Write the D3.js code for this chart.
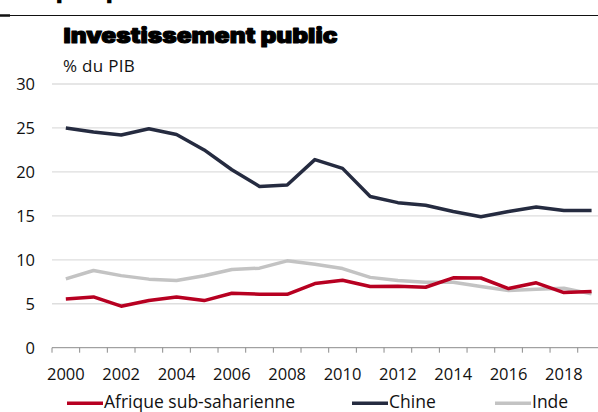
<!DOCTYPE html>
<html>
<head>
<meta charset="utf-8">
<script src="https://cdn.jsdelivr.net/npm/d3@7"></script>
<style>
  body { margin: 0; background: #fff; }
  svg { display: block; }
</style>
</head>
<body>
<div id="chart"></div>
<script>
const years = d3.range(2000, 2020);
const afrique = [5.55, 5.78, 4.72, 5.36, 5.78, 5.36, 6.2, 6.08, 6.08, 7.3, 7.68, 6.96, 7.0, 6.88, 7.95, 7.93, 6.73, 7.38, 6.27, 6.38];
const chine = [25.0, 24.55, 24.2, 24.9, 24.25, 22.5, 20.25, 18.35, 18.5, 21.4, 20.4, 17.2, 16.5, 16.2, 15.5, 14.9, 15.5, 16.0, 15.6, 15.6];
const inde = [7.83, 8.78, 8.2, 7.8, 7.65, 8.18, 8.9, 9.05, 9.88, 9.5, 9.0, 8.0, 7.65, 7.45, 7.45, 6.96, 6.5, 6.65, 6.77, 6.12];
const yTicks = [0, 5, 10, 15, 20, 25, 30];
const xLabels = [2000, 2002, 2004, 2006, 2008, 2010, 2012, 2014, 2016, 2018];

const series = [
  { name: "Afrique sub-saharienne", values: afrique, color: "#b70021" },
  { name: "Chine", values: chine, color: "#252b40" },
  { name: "Inde", values: inde, color: "#c3c3c3" },
];

const W = 598, H = 412;
const font = "'Open Sans', sans-serif";

const svg = d3.select("#chart").append("svg")
  .attr("width", W).attr("height", H);

// cut-off heading above
[56, 106].forEach((x) => {
  svg.append("text")
    .attr("x", x).attr("y", -1)
    .attr("font-family", "Inter, sans-serif")
    .attr("font-weight", 900)
    .attr("font-size", 22)
    .text("p");
});
svg.append("line")
  .attr("x1", 0).attr("x2", W).attr("y1", 15.5).attr("y2", 15.5)
  .attr("stroke", "#111").attr("stroke-width", 1);
svg.append("line")
  .attr("x1", 0).attr("x2", 10).attr("y1", 15.5).attr("y2", 15.5)
  .attr("stroke", "#111").attr("stroke-width", 2.5);

// Title (heavy, wide look)
svg.append("text")
  .attr("x", 63.5).attr("y", 42.5)
  .attr("font-family", "Inter, sans-serif")
  .attr("font-weight", 900)
  .attr("font-size", 20.5)
  .attr("textLength", 274)
  .attr("lengthAdjust", "spacingAndGlyphs")
  .attr("fill", "#000")
  .attr("stroke", "#000")
  .attr("stroke-width", 1)
  .attr("stroke-linejoin", "round")
  .text("Investissement public");

svg.append("text")
  .attr("x", 63).attr("y", 71.7)
  .attr("font-family", font)
  .attr("font-size", 17)
  .attr("letter-spacing", 0.3)
  .attr("fill", "#111")
  .text("% du PIB");

// Scales
const x = d3.scaleBand().domain(years).range([52, 52 + 27.67 * 20]).padding(0);
const y = d3.scaleLinear().domain([0, 30]).range([347.7, 84]);

// Grid
svg.append("g")
  .selectAll("line")
  .data(yTicks.filter((d) => d > 0))
  .enter()
  .append("line")
  .attr("x1", 52).attr("x2", W)
  .attr("y1", (d) => y(d)).attr("y2", (d) => y(d))
  .attr("stroke", "#dedede")
  .attr("stroke-width", 1.3);

// Y axis labels
svg.append("g")
  .selectAll("text")
  .data(yTicks)
  .enter()
  .append("text")
  .attr("x", 35)
  .attr("y", (d) => y(d) + 6)
  .attr("text-anchor", "end")
  .attr("font-family", font)
  .attr("font-size", 16.5)
  .attr("fill", "#111")
  .text((d) => d);

// X axis
const xAxis = svg.append("g")
  .attr("transform", `translate(0, ${y(0)})`);
xAxis.append("line")
  .attr("x1", 52).attr("x2", W)
  .attr("stroke", "#8c8c8c").attr("stroke-width", 1);
xAxis.selectAll(".tick")
  .data(years.concat([2020]))
  .enter()
  .append("line")
  .attr("x1", (d, i) => 52 + i * x.bandwidth())
  .attr("x2", (d, i) => 52 + i * x.bandwidth())
  .attr("y1", 0).attr("y2", 5)
  .attr("stroke", "#8c8c8c").attr("stroke-width", 1);
xAxis.selectAll(".lab")
  .data(xLabels)
  .enter()
  .append("text")
  .attr("x", (d) => x(d) + x.bandwidth() / 2)
  .attr("y", 32.3)
  .attr("text-anchor", "middle")
  .attr("font-family", font)
  .attr("font-size", 16.5)
  .attr("fill", "#111")
  .text((d) => d);

// Lines
const line = d3.line()
  .x((d, i) => x(years[i]) + x.bandwidth() / 2)
  .y((d) => y(d));

series.slice().reverse().forEach((s) => {
  svg.append("path")
    .datum(s.values)
    .attr("fill", "none")
    .attr("stroke", s.color)
    .attr("stroke-width", 3.5)
    .attr("stroke-linejoin", "round")
    .attr("d", line);
});

// Legend
const legendX = [67, 352, 495];
series.forEach((s, i) => {
  const g = svg.append("g").attr("transform", `translate(${legendX[i]}, 403.3)`);
  g.append("line")
    .attr("x1", 0).attr("x2", 36)
    .attr("stroke", s.color).attr("stroke-width", 3.5);
  g.append("text")
    .attr("x", 37).attr("y", 5)
    .attr("font-family", font)
    .attr("font-size", 17.5)
    .attr("fill", "#111")
    .text(s.name);
});
</script>
</body>
</html>
